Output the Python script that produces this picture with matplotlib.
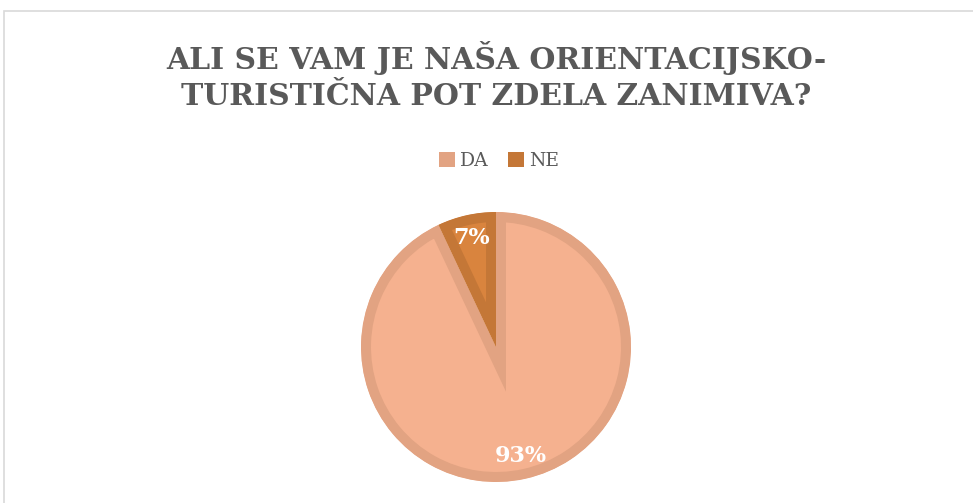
import matplotlib.pyplot as plt
from matplotlib.patches import Rectangle, Patch, Wedge

plt.rcParams['font.family'] = ['DejaVu Serif']

# Data
labels = ['DA', 'NE']
shares = [93, 7]
fill_colors = ['#F5B18F', '#D9843E']
edge_colors = ['#E2A382', '#C47737']
title = 'ALI SE VAM JE NAŠA ORIENTACIJSKO-\nTURISTIČNA POT ZDELA ZANIMIVA?'

W, H = 973, 503
fig = plt.figure(figsize=(W / 100, H / 100), dpi=100)

# chart-area frame
fig.patches.append(Rectangle((4 / W, -0.05), 1.1, 1.05 - 11 / H, transform=fig.transFigure,
                             fill=False, edgecolor='#D9D9D9', linewidth=1.2))

# pie centred at (496, 347) px, radius 135 px
cx, cy, r = 496, H - 347, 135
ax = fig.add_axes([(cx - r) / W, (cy - r) / H, 2 * r / W, 2 * r / H])
wedges, texts, autotexts = ax.pie(shares, colors=fill_colors, startangle=90, counterclock=False,
                                  autopct='%1.0f%%', pctdistance=0.83, radius=1,
                                  textprops=dict(color='white', fontsize=16, fontweight='bold'))
ax.set_xlim(-1, 1)
ax.set_ylim(-1, 1)
ax.set_aspect('equal')

# border drawn only on the inside of each slice
for w, ec in zip(wedges, edge_colors):
    w.set_edgecolor(ec)
    w.set_linewidth(14.4)
    clip = Wedge(w.center, w.r, w.theta1, w.theta2, transform=ax.transData)
    w.set_clip_path(clip)
    w.set_clip_on(True)

fig.text(496 / W, 1 - 76 / H, title, ha='center', va='center', fontsize=21.5, fontweight='bold',
         color='#595959', linespacing=1.3)

handles = [Patch(facecolor=c, edgecolor='none') for c in edge_colors]
fig.legend(handles, labels, loc='center', bbox_to_anchor=(499 / W, 1 - 161 / H), ncol=2,
           frameon=False, fontsize=13.5, labelcolor='#595959', handlelength=0.85, handleheight=0.85,
           handletextpad=0.3, columnspacing=1.0)

fig.savefig('out.png', dpi=100)
